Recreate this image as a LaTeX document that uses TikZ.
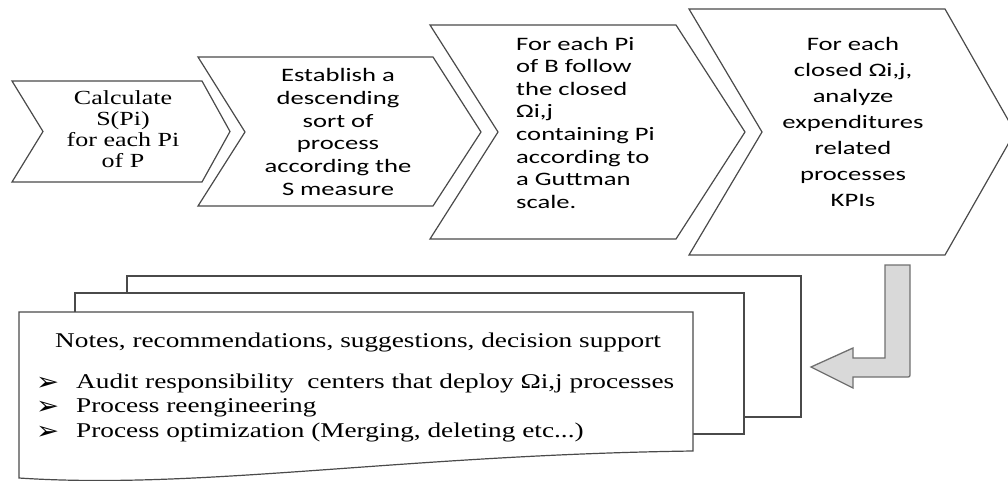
\documentclass[tikz,border=0pt]{standalone}
\usepackage{fontspec}
\setmainfont{Liberation Serif}[FakeStretch=1.3]
\newfontfamily\calib{Carlito}[FakeStretch=1.4]
\newfontfamily\dingfont{DejaVu Sans}[FakeStretch=1.1]

\definecolor{outline}{HTML}{4A4A4A}
\definecolor{arrowfill}{HTML}{D9D9D9}
\definecolor{arrowline}{HTML}{707070}

\tikzset{
  chev/.style={draw=outline, line width=1.2pt, fill=white, line join=miter},
  page/.style={draw=outline, line width=1.2pt, fill=white},
  bentarrow/.style={draw=arrowline, line width=1.3pt, fill=arrowfill, line join=miter},
  seriftext/.style={inner sep=0pt, align=center, font=\fontsize{20}{21}\selectfont},
  sanstext/.style={inner sep=0pt, align=center},
  notetext/.style={inner sep=0pt, anchor=base west, font=\fontsize{21}{25}\selectfont},
  bulletmark/.style={inner sep=0pt, anchor=base west, font=\dingfont\fontsize{25}{25}\selectfont},
}

\begin{document}
\begin{tikzpicture}[x=1pt,y=-1pt]
\useasboundingbox (0,0) rectangle (1008,481);
\clip (0,0) rectangle (1008,481);

% process chevrons, left to right
\draw[chev] (12,81) -- (202,81) -- (230,131.5) -- (202,182) -- (12,182) -- (43,131.5) -- cycle;
\draw[chev] (198,57) -- (433,57) -- (481,132) -- (433,206) -- (198,206) -- (245,132) -- cycle;
\draw[chev] (430,25) -- (676,25) -- (745,132) -- (676,239) -- (430,239) -- (498,132) -- cycle;
\draw[chev] (689,9) -- (945,9) -- (1015,132) -- (945,255) -- (689,255) -- (762,132) -- cycle;

\node[seriftext] (calc) at (123,129) {Calculate\\S(Pi)\\for each Pi\\of P};
\node[sanstext, font=\calib\fontsize{19}{22.8}\selectfont] (sortp) at (338,132)
  {Establish a\\descending\\sort of\\process\\according the\\S measure};
\node[sanstext, align=left, anchor=west, font=\calib\fontsize{19}{22.6}\selectfont] (follow) at (516,122.6)
  {For each Pi\\of B follow\\the closed\\Ωi,j\\containing Pi\\according to\\a Guttman\\scale.};
\node[sanstext, font=\calib\fontsize{19}{26}\selectfont] (kpi) at (853,122.4)
  {For each\\closed Ωi,j,\\analyze\\expenditures\\related\\processes\\KPIs};

% stacked result documents, back to front
\draw[page] (127,276) rectangle (801,417);
\draw[page] (75,293) rectangle (744,434);
\draw[page] (19,312) -- (693,312) -- (693,451)
  .. controls (400,455) and (200,490) .. (19,478) -- cycle;

\node[notetext] (notes) at (55,347) {Notes, recommendations, suggestions, decision support};
\node[bulletmark] (b1) at (36,390) {➢};
\node[notetext] (audit) at (76,388) {Audit responsibility\ \ centers that deploy Ωi,j processes};
\node[bulletmark] (b2) at (36,414) {➢};
\node[notetext] (reeng) at (76,412) {Process reengineering};
\node[bulletmark] (b3) at (36,439) {➢};
\node[notetext] (optim) at (76,437) {Process optimization (Merging, deleting etc...)};

% bent return arrow into the documents
\draw[bentarrow] (885,265) -- (910,265) -- (910,373)
  .. controls (910,377) .. (906,377) -- (853,377) -- (853,388)
  -- (811,367) -- (853,348) -- (853,358) -- (885,358) -- cycle;
\end{tikzpicture}
\end{document}
